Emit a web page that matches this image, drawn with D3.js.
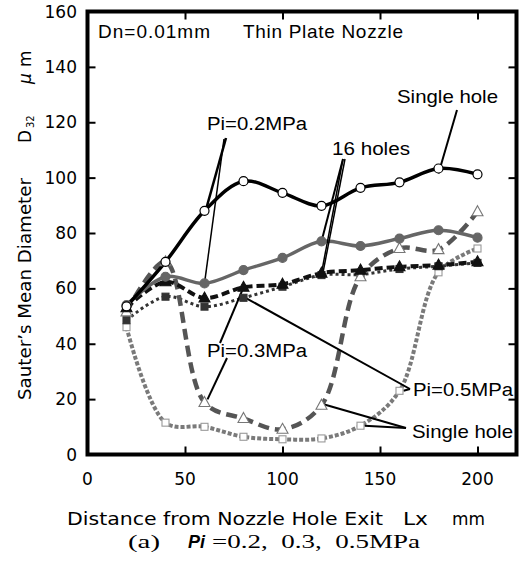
<!DOCTYPE html>
<html><head><meta charset="utf-8">
<script src="https://cdn.jsdelivr.net/npm/d3@7"></script>
<style>
body{margin:0;background:#fff;}
svg{display:block;}
</style></head>
<body><svg id="c" width="519" height="566" font-family="'Liberation Sans',Arial,sans-serif"></svg>
<script>
// ---- data ----
const distances = [20, 40, 60, 80, 100, 120, 140, 160, 180, 200];
const single02  = [53.5, 69.6, 88.0, 98.7, 94.5, 89.8, 96.3, 98.3, 103.3, 101.2];
const holes02   = [54.0, 64.2, 61.8, 66.6, 71.0, 77.0, 75.3, 78.0, 81.0, 78.3];
const holes03   = [53.0, 62.4, 56.5, 60.4, 61.5, 65.5, 66.6, 67.8, 68.4, 69.6];
const single03  = [51.5, 69.6, 18.8, 13.0, 9.1, 17.8, 64.2, 74.4, 74.0, 87.7];
const holes05   = [48.5, 57.0, 53.4, 56.6, 60.6, 64.8, 65.0, 67.0, 68.0, 69.2];
const single05  = [46.0, 11.5, 10.0, 6.4, 5.5, 5.8, 10.4, 23.0, 65.8, 74.4];
const xTicks = [0, 50, 100, 150, 200];
const yTicks = [0, 20, 40, 60, 80, 100, 120, 140, 160];

const svg = d3.select("#c");
const SERIF = "'Liberation Serif','DejaVu Serif',serif";
const WIDE = "'DejaVu Sans','Liberation Sans',sans-serif";
const L = 87.5, R = 516.5, T = 11.5, B = 454.5;
const x = d3.scaleLinear().domain([0, 220]).range([L, R]);
const y = d3.scaleLinear().domain([0, 160]).range([B, T]);

const series = [
  {v: single05, color:"#7a7a7a", w:4,   dash:"4,2",  marker:"square", fill:"#fff", mstroke:"#999"},
  {v: holes05,  color:"#333",    w:3,   dash:"3,3",  marker:"square", fill:"#333", mstroke:"#333"},
  {v: single03, color:"#555",    w:4.5, dash:"11,6", marker:"tri",    fill:"#fff", mstroke:"#777"},
  {v: holes03,  color:"#111",    w:4,   dash:"8,4",  marker:"tri",    fill:"#111", mstroke:"#111"},
  {v: holes02,  color:"#666",    w:3.5, dash:null,   marker:"circle", fill:"#666", mstroke:"#666"},
  {v: single02, color:"#000",    w:3.5, dash:null,   marker:"circle", fill:"#fff", mstroke:"#000"}
];

const line = d3.line().x((d,i)=>x(distances[i])).y(d=>y(d)).curve(d3.curveCatmullRom.alpha(0.5));

series.forEach(s=>{
  svg.append("path").attr("d", line(s.v)).attr("fill","none")
    .attr("stroke", s.color).attr("stroke-width", s.w)
    .attr("stroke-dasharray", s.dash);
});
// leader lines
const lead = svg.append("g").attr("stroke","#000").attr("fill","none");
function ld(x1,y1,x2,y2,w){lead.append("line").attr("x1",x1).attr("y1",y1).attr("x2",x2).attr("y2",y2).attr("stroke-width",w||2);}
ld(457,110, x(180), y(single02[8])+5, 2);
ld(226,138, x(60), y(single02[2])+4, 2.5);
ld(224,139, x(60), y(holes02[2]), 1.5);
ld(343,159, x(120), y(holes02[5]), 2);
ld(343,159, x(120), y(holes03[5]), 1.5);
ld(345,159, x(120)+1, y(holes05[5]), 1.5);
ld(220,343, x(80), y(holes03[3]), 2);
ld(227,358, x(60)+3, y(single03[2])-3, 2);
ld(410,389, x(80)+2, y(holes05[3]), 2);
ld(410,389, x(160)+4, y(single05[7]), 2);
ld(406,428, x(120)+2, y(single03[5])-1, 2);
ld(406,428, x(140)+4, y(single05[6]), 2);

// markers
series.forEach(s=>{
  const g = svg.append("g");
  s.v.forEach((d,i)=>{
    const cx = x(distances[i]), cy = y(d);
    if (s.marker==="circle") {
      g.append("circle").attr("cx",cx).attr("cy",cy).attr("r",4.5)
        .attr("fill",s.fill).attr("stroke",s.mstroke).attr("stroke-width",1.2);
    } else if (s.marker==="square") {
      g.append("rect").attr("x",cx-3.5).attr("y",cy-3.5).attr("width",7).attr("height",7)
        .attr("fill",s.fill).attr("stroke",s.mstroke).attr("stroke-width",1.1);
    } else {
      g.append("path").attr("d",`M${cx},${cy-6}L${cx+5.5},${cy+4}L${cx-5.5},${cy+4}Z`)
        .attr("fill",s.fill).attr("stroke",s.mstroke).attr("stroke-width",1.1);
    }
  });
});

// axes (inward ticks on all sides)
const tk = 8;
function styleAxis(g){g.select(".domain").remove(); g.selectAll("line").attr("stroke","#000").attr("stroke-width",2);}
svg.append("g").attr("transform",`translate(0,${B})`)
  .call(d3.axisBottom(x).tickValues(xTicks).tickSize(-tk).tickFormat("")).call(styleAxis);
svg.append("g").attr("transform",`translate(0,${T})`)
  .call(d3.axisTop(x).tickValues(xTicks).tickSize(-tk).tickFormat("")).call(styleAxis);
svg.append("g").attr("transform",`translate(${L},0)`)
  .call(d3.axisLeft(y).tickValues(yTicks).tickSize(-tk).tickFormat("")).call(styleAxis);
svg.append("g").attr("transform",`translate(${R},0)`)
  .call(d3.axisRight(y).tickValues(yTicks).tickSize(-tk).tickFormat("")).call(styleAxis);
svg.append("rect").attr("x",L).attr("y",T).attr("width",R-L).attr("height",B-T)
  .attr("fill","none").attr("stroke","#000").attr("stroke-width",4);

// tick labels
svg.append("g").attr("font-family",WIDE).selectAll("text").data(xTicks).join("text")
  .attr("x",d=>x(d)).attr("y",485).attr("text-anchor","middle").attr("font-size",17).text(d=>d);
svg.append("g").attr("font-family",WIDE).selectAll("text").data(yTicks).join("text")
  .attr("x",77).attr("y",d=>y(d)+6).attr("text-anchor","end").attr("font-size",17).text(d=>d);

// annotations
function tx(s,x0,y0,fs,len,adj,fam){const t=svg.append("text").attr("x",x0).attr("y",y0).attr("font-size",fs).text(s); if(len) t.attr("textLength",len).attr("lengthAdjust",adj||"spacingAndGlyphs"); if(fam) t.attr("font-family",fam); return t;}
tx("Dn=0.01mm",98,38,19,112,"spacing");
tx("Thin Plate Nozzle",243,38,19,160,"spacing");
tx("Single hole",397,103,19,101);
tx("Pi=0.2MPa",207,130,18,100);
tx("16 holes",332,155,18,78);
tx("Pi=0.3MPa",207,357,18,100);
tx("Pi=0.5MPa",413,396,18,100);
tx("Single hole",412,438,19,101);

// y-axis title (rotated)
const yt = svg.append("g").attr("transform","translate(31,0) rotate(-90)").attr("font-family",WIDE);
yt.append("text").attr("x",-400).attr("y",0).attr("font-size",17).attr("textLength",222).attr("lengthAdjust","spacingAndGlyphs").text("Sauter’s Mean Diameter");
yt.append("text").attr("x",-143).attr("y",0).attr("font-size",17).text("D");
yt.append("text").attr("x",-128).attr("y",3).attr("font-size",10).text("32");
yt.append("text").attr("x",-84).attr("y",0).attr("font-size",17).attr("font-style","italic").text("μ");
yt.append("text").attr("x",-67).attr("y",0).attr("font-size",17).text("m");

// x-axis title
tx("Distance from Nozzle Hole Exit",67,525,18,316,"spacingAndGlyphs",WIDE);
tx("Lx",403,525,18,25,"spacingAndGlyphs",WIDE);
tx("mm",452,525,18,33,"spacingAndGlyphs",WIDE);

// caption
tx("(a)",128,548,18,32,"spacingAndGlyphs",SERIF);
svg.append("text").attr("x",188).attr("y",548).attr("font-size",18).attr("font-weight","bold").attr("font-style","italic").text("Pi");
tx("=0.2,  0.3,  0.5MPa",212,548,18,208,"spacingAndGlyphs",SERIF).attr("xml:space","preserve").style("white-space","pre");
</script></body></html>
